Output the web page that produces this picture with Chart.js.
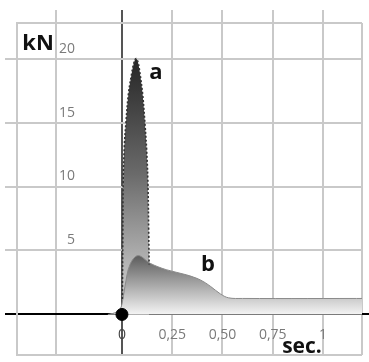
<!DOCTYPE html>
<html>
<head>
<meta charset="utf-8">
<script src="https://cdn.jsdelivr.net/npm/chart.js@4.4.0/dist/chart.umd.min.js"></script>
<style>
  html, body { margin: 0; padding: 0; background: #fff; }
  #wrap { width: 369px; height: 362px; }
</style>
</head>
<body>
<div id="wrap"><canvas id="forceChart"></canvas></div>
<script>
// ======== Data ========
// peak "a": the short impact spike
const spikeTime = [0.002, 0.004, 0.006, 0.012, 0.02, 0.032, 0.048, 0.06, 0.07, 0.08, 0.09, 0.103, 0.114, 0.123, 0.129, 0.133, 0.135];
const spikeForce = [1.2, 6, 10.4, 13.2, 15, 17.2, 18.8, 19.7, 20, 19.7, 18.8, 17.2, 15, 12.8, 10.4, 6.5, 3.9];

// curve "b": the slower load that follows
const bodyTime = [-0.07, -0.03, -0.01, 0, 0.015, 0.04, 0.08, 0.14, 0.22, 0.32, 0.39, 0.44, 0.49, 0.53, 0.6, 1.25];
const bodyForce = [0, 0.15, 0.4, 0.8, 2.2, 3.9, 4.6, 4.0, 3.5, 3.1, 2.7, 2.2, 1.6, 1.3, 1.25, 1.25];

// start marker
const startTime = [0];
const startForce = [0];

// axes
const xTickValues = [0, 0.25, 0.5, 0.75, 1];
const xTickLabels = ["0", "0,25", "0,50", "0,75", "1"];
const xExtraGrid = [-0.33];
const yTickValues = [5, 10, 15, 20];
const yTickLabels = ["5", "10", "15", "20"];
const xMin = -0.522, xMax = 1.194;
const yMin = -3.17, yMax = 22.78;

const GRID = "#c9c9c9";
const FONT = "'Open Sans', 'DejaVu Sans', sans-serif";

function toPoints(xs, ys) {
  return xs.map((x, i) => ({ x, y: ys[i] }));
}

// ======== Gradient helper ========
function vGradient(ctx, top, stops) {
  const chart = ctx.chart;
  if (!chart.chartArea) return stops[stops.length - 1][1];
  const y = chart.scales.y;
  const g = chart.ctx.createLinearGradient(0, y.getPixelForValue(top), 0, y.getPixelForValue(0));
  stops.forEach(([p, c]) => g.addColorStop(p, c));
  return g;
}

// ======== Text labels plugin ========
const textLabels = {
  id: "textLabels",
  afterDatasetsDraw(chart) {
    const { ctx } = chart;
    const sx = chart.scales.x, sy = chart.scales.y;
    ctx.save();
    ctx.fillStyle = "#111";
    ctx.textAlign = "center";
    ctx.textBaseline = "middle";
    ctx.font = `bold 22px ${FONT}`;
    ctx.fillText("a", sx.getPixelForValue(0.169), sy.getPixelForValue(18.9));
    ctx.fillText("b", sx.getPixelForValue(0.428), sy.getPixelForValue(3.86));
    ctx.fillText("kN", 38, 44);
    ctx.font = `bold 21px ${FONT}`;
    ctx.fillText("sec.", 302, 347);
    ctx.restore();
  },
};

const allXTicks = () => [xMin, ...xExtraGrid, ...xTickValues, xMax].map((v) => ({ value: v }));
const allYTicks = () => [yMin, 0, ...yTickValues, yMax].map((v) => ({ value: v }));
const isEdge = (v, a, b) => v === a || v === b;
// pin each axis box to a fixed size and drop the automatic label padding
const fixSize = (key, px) => (s) => {
  s[key] = px;
  s.paddingLeft = s.paddingRight = s.paddingTop = s.paddingBottom = 0;
};

new Chart(document.getElementById("forceChart").getContext("2d"), {
  type: "line",
  data: {
    datasets: [
      {
        // spike fill
        data: toPoints(spikeTime, spikeForce),
        borderWidth: 0,
        pointRadius: 0,
        tension: 0.35,
        fill: "origin",
        backgroundColor: (ctx) =>
          vGradient(ctx, 20, [[0, "#262626"], [0.45, "#6a6a6a"], [0.8, "#b4b4b4"], [1, "#d8d8d8"]]),
        order: 4,
      },
      {
        // curve b
        data: toPoints(bodyTime, bodyForce),
        borderColor: "#8a8a8a",
        borderWidth: 1,
        pointRadius: 0,
        tension: 0.35,
        fill: "origin",
        backgroundColor: (ctx) =>
          vGradient(ctx, 4.6, [[0, "#5c5c5c"], [0.5, "#a8a8a8"], [1, "#f4f4f4"]]),
        order: 3,
      },
      {
        // spike dotted outline
        data: toPoints(spikeTime, spikeForce),
        borderColor: "#333",
        borderWidth: 1.6,
        borderDash: [2, 2],
        pointRadius: 0,
        tension: 0.35,
        fill: false,
        order: 2,
      },
      {
        // start dot
        data: toPoints(startTime, startForce),
        showLine: false,
        pointRadius: 6,
        pointBackgroundColor: "#000",
        pointBorderColor: "#000",
        order: 1,
      },
    ],
  },
  options: {
    responsive: true,
    maintainAspectRatio: false,
    animation: false,
    layout: { padding: { left: 5, top: 10, right: 0, bottom: 3 } },
    plugins: { legend: { display: false }, tooltip: { enabled: false } },
    scales: {
      x: {
        type: "linear",
        position: { y: 0 },
        min: xMin,
        max: xMax,
        afterBuildTicks: (s) => { s.ticks = allXTicks(); },
        afterFit: fixSize("height", 0),
        grid: {
          drawTicks: false,
          lineWidth: 2,
          color: (c) => (c.tick && c.tick.value === 0 ? "#555" : GRID),
        },
        border: { display: true, color: "#000", width: 2 },
        ticks: {
          padding: 12,
          maxRotation: 0,
          autoSkip: false,
          font: { family: FONT, size: 14 },
          color: (c) => (c.tick && c.tick.value === 0 ? "#444" : "#7a7a7a"),
          callback: (v) => {
            const i = xTickValues.indexOf(v);
            return i >= 0 ? xTickLabels[i] : "";
          },
        },
      },
      x2: {
        type: "linear",
        position: "top",
        min: xMin,
        max: xMax,
        afterBuildTicks: (s) => { s.ticks = allXTicks(); },
        afterFit: fixSize("height", 13),
        grid: {
          drawOnChartArea: false,
          tickLength: 13,
          lineWidth: 2,
          tickColor: (c) => (c.tick && isEdge(c.tick.value, xMin, xMax) ? "rgba(0,0,0,0)" : c.tick && c.tick.value === 0 ? "#555" : GRID),
        },
        border: { display: false },
        ticks: { display: false },
      },
      y: {
        type: "linear",
        position: { x: -0.234 },
        min: yMin,
        max: yMax,
        afterBuildTicks: (s) => { s.ticks = allYTicks(); },
        afterFit: fixSize("width", 0),
        grid: {
          drawTicks: false,
          lineWidth: 2,
          color: (c) => (c.tick && c.tick.value === 0 ? "rgba(0,0,0,0)" : GRID),
        },
        border: { display: false },
        ticks: {
          labelOffset: -10,
          autoSkip: false,
          font: { family: FONT, size: 14 },
          color: "#7a7a7a",
          callback: (v) => {
            const i = yTickValues.indexOf(v);
            return i >= 0 ? yTickLabels[i] : "";
          },
        },
      },
      y2: {
        type: "linear",
        position: "left",
        min: yMin,
        max: yMax,
        afterBuildTicks: (s) => { s.ticks = allYTicks(); },
        afterFit: fixSize("width", 12),
        grid: {
          drawOnChartArea: false,
          tickLength: 12,
          lineWidth: 2,
          tickColor: (c) => (c.tick && isEdge(c.tick.value, yMin, yMax) ? "rgba(0,0,0,0)" : c.tick && c.tick.value === 0 ? "#000" : GRID),
        },
        border: { display: true, color: GRID, width: 2 },
        ticks: { display: false },
      },
      y3: {
        type: "linear",
        position: "right",
        min: yMin,
        max: yMax,
        afterBuildTicks: (s) => { s.ticks = [{ value: 0 }]; },
        afterFit: fixSize("width", 7),
        grid: { drawOnChartArea: false, tickLength: 7, lineWidth: 2, tickColor: "#000" },
        border: { display: false },
        ticks: { display: false },
      },
    },
  },
  plugins: [textLabels],
});
</script>
</body>
</html>
